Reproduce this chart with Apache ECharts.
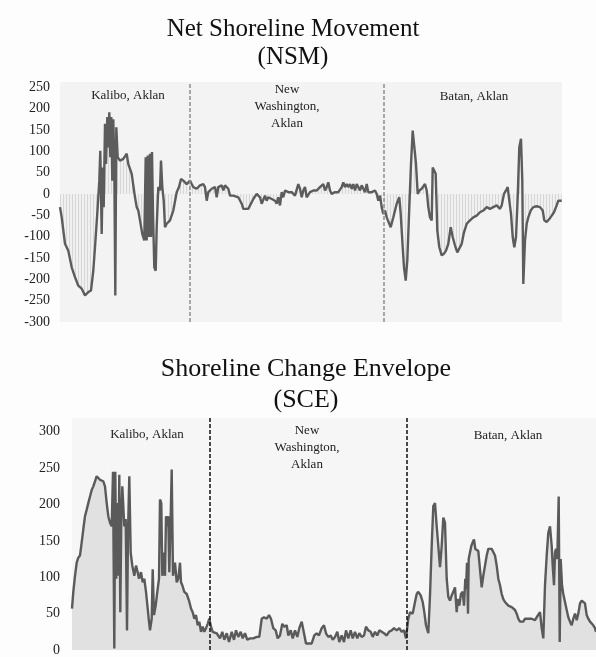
<!DOCTYPE html>
<html>
<head>
<meta charset="utf-8">
<script src="https://cdn.jsdelivr.net/npm/echarts@6/dist/echarts.min.js"></script>
<style>
  html, body { margin: 0; padding: 0; background: #fdfdfd; }
  #chart { width: 596px; height: 657px; }
</style>
</head>
<body>
<div id="chart"></div>
<script>
// transect position along the shoreline, value in metres
const nsmPoints = [
    [0,-31],[1.7,-55],[5,-117],[8.3,-133],[11.7,-172],[15,-195],[18.3,-215],[21.7,-222],[25,-238],[26.7,-234],[28.3,-230],[31,-226],[33.3,-180],[35,-125],[37.7,-31],[39.3,31],[40.3,101],[41.7,-94],[42.7,62],[43.7,-31],[45,164],[46,70],[47.3,180],[48.3,109],[49.3,191],[50.3,86],[51.3,180],[52.3,31],[53.3,175],[54.3,70],[55.3,-238],[56.3,156],[57.7,86],[60,78],[63.3,82],[65,86],[66.7,94],[68.3,70],[71.7,47],[75,-8],[76.7,-31],[78.3,-39],[80,-62],[82.3,-94],[84.3,-109],[85.7,86],[86.7,-109],[87.7,90],[88.7,-101],[90,94],[91,-101],[92,98],[93,-47],[94.3,-172],[95.7,-180],[96.7,-78],[98.3,16],[100,8],[101,78],[102.3,16],[103.7,-16],[105,-78],[106.7,-70],[110,-62],[113.3,-39],[116.7,4],[119,16],[121,35],[123.3,31],[126.7,23],[130,31],[131.7,23],
    [133.3,16],[136.7,12],[140,20],[143.3,23],[145,16],[146.7,-16],[148.3,4],[151.7,12],[155,16],[156.7,-8],[158.3,16],[161.7,20],[163.3,8],[165,20],[168.3,12],[170,-4],[173.3,-4],[178.3,-8],[181.7,-23],[183.3,-35],[188.3,-35],[190,-35],[193.3,-12],[196.7,0],[200,-8],[201.7,-23],[205,-4],[206.7,-16],[208.3,-8],[211.7,-12],[215,-16],[216.7,-23],[218.3,-8],[220,-27],[221.7,4],[223.3,-8],[225,8],[228.3,4],[231.7,4],[235,-4],[238.3,23],[240,12],[241.7,-8],[243.3,8],[245,16],[246.7,-8],[250,4],[253.3,8],[256.7,8],[260,16],[261.7,12],[263.3,23],[265,8],[266.7,16],[268.3,27],[270,8],[271.7,0],[275,4],[278.3,4],[281.7,16],[283.3,27],[285,16],[286.7,23],[288.3,16],[290,23],[291.7,12],[293.3,23],[295,8],[296.7,23],[298.3,16],[300,8],[301.7,20],[305,4],[306.7,23],[308.3,4],[311.7,4],[315,8],[316.7,0],[318.3,-16],
    [320,-4],[321.7,-31],[323.3,-47],[325,-39],[326.7,-55],[328.3,-51],[330.7,-78],[333.3,-55],[336.7,-23],[339.3,-8],[340.7,-47],[342.7,-125],[344,-172],[345.7,-203],[347.3,-156],[349.3,-31],[351,70],[352.7,148],[354.3,152],[356,70],[357.7,0],[359.3,8],[361.7,12],[363.3,16],[365,23],[366.7,8],[368.3,-31],[370,-55],[371.7,-62],[372.7,62],[374,66],[375.7,47],[377.3,-86],[379.3,-125],[381.7,-144],[384,-140],[386,-133],[388.3,-117],[390.7,-78],[392.7,-101],[395,-121],[397.3,-137],[399.3,-133],[401.7,-117],[404,-90],[406.7,-70],[410,-62],[413.3,-55],[416.7,-51],[420,-43],[423.3,-39],[426.7,-31],[430,-35],[433.3,-31],[436.7,-27],[440,-35],[441.7,-27],[444,0],[446,8],[447.7,16],[449.3,-16],[451,-47],[452.7,-101],[454.3,-125],[456,-101],[457.7,-8],[459.3,109],[461,129],[462.3,31],[463.3,-211],[465,-109],[466.7,-70],[468.3,-55],[470.7,-39],[473.3,-31],[476.7,-29],[480,-31],[482.7,-39],[484.3,-62],[486.7,-66],[489.3,-59],[491.7,-51],[494,-43],[496.7,-27],[498.3,-16],[500,-20],[501.7,-16]
];

const scePoints = [
    [0,57],[1.3,80],[3,102],[4.7,120],[6.3,127],[8,130],[9.7,148],[11.3,166],[13,184],[14.7,193],[16.3,202],[18,211],[19.7,220],[21.3,225],[23,232],[24.7,239],[26.3,241],[28,234],[29.7,236],[31.3,232],[33,225],[34.7,202],[36.3,184],[38,175],[39.7,170],[41,245],[42.3,2],[43.3,245],[44.3,98],[45.3,202],[46.3,102],[47.3,241],[48.3,52],[49.3,180],[50.3,225],[51.3,198],[52.3,170],[53.7,180],[55,27],[56,161],[57.3,239],[58.7,134],[60.3,116],[62.3,102],[64,116],[65.7,107],[67,98],[69,107],[70.7,93],[72.3,98],[74,80],[75.7,57],[77,39],[78,27],[79.7,43],[80.7,111],[82,48],[83.7,61],[85.3,80],[87,98],[88,207],[89.3,202],[90.3,102],[91.7,134],[93,102],[94,184],[95.3,170],[96.3,184],[97.3,107],[98.7,184],[99.7,248],[101,102],[103,120],[104.7,93],[106.3,98],[108,120],[109,93],[110.3,89],[112.3,80],[114.7,77],[117,68],[119,57],[120.7,52],[122.3,43],[124,48],[125.7,34],[127.3,39],[129,25],[130.7,32],[132.3,25],[134,30],[135.7,36],[137.3,43],[139,32],[140.7,25],
    [141.3,27],[144.7,23],[148,16],[150.3,25],[152.3,14],[154.7,23],[157,11],[159.7,25],[162,14],[164,27],[166.3,18],[168.7,25],[170.7,16],[173,23],[175.3,14],[178,16],[181.3,16],[184.7,18],[187.3,18],[189.7,43],[192,45],[194.7,43],[197,48],[199,43],[201.3,30],[203.7,27],[205.7,16],[208,20],[210.3,36],[212.3,32],[214.7,34],[216.3,20],[218.7,27],[220.7,16],[223,27],[225.3,18],[227.3,30],[229.7,39],[232,23],[234,9],[237,9],[239.7,9],[242.3,20],[244.7,23],[247,20],[249.7,30],[252,34],[254,23],[256.3,18],[258.7,20],[260.7,14],[263,18],[265.3,25],[267.3,11],[269.7,20],[272,11],[274,27],[276.3,16],[278.7,27],[280.7,16],[283,25],[285.3,16],[287.3,23],[289.7,18],[292,20],[294,32],[296.3,27],[298.7,25],[300.7,18],[303,25],[305.3,20],[307.3,27],[309.7,25],[312,23],[314.7,20],[317,25],[319.7,27],[322,30],[324.7,27],[327.3,30],[329.7,25],[332,27],[334,16],
    [336.3,43],[338,52],[340.7,50],[343,66],[344.7,77],[346.3,80],[348.7,75],[350.7,66],[352.3,52],[354,34],[356.3,23],[358,75],[359.7,143],[361.3,198],[363,202],[364.7,170],[366.3,143],[368,114],[369.7,143],[371.3,182],[373,175],[374.7,98],[376.3,73],[378,68],[379.7,75],[381.3,80],[383,86],[384.7,52],[385.7,70],[387.3,61],[389,77],[390.7,80],[392,61],[393.3,98],[394,84],[395,120],[396,50],[396.7,125],[398,127],[399.3,143],[400.7,148],[402,152],[403.3,139],[404.7,141],[406.3,136],[408,111],[409.7,86],[411.3,102],[413,116],[414.7,130],[416.3,139],[418,141],[419.7,139],[421.3,141],[423,130],[424.7,116],[426.3,98],[428,89],[429.7,77],[431.3,70],[433,66],[434.7,64],[436.3,61],[438,59],[439.7,59],[441.3,57],[443,55],[444.7,50],[446.3,43],[448,39],[449.7,41],[451.3,39],[453,43],[454.7,41],[456.3,43],[458,45],[459.7,43],[461.3,45],[463,41],[464.7,45],[466.3,43],[468,52],[469.7,30],[471.3,16],[473,89],[474.7,130],[476.3,161],[478,170],[479.7,143],[480.7,116],[482,89],[483,134],[484,139],[485.3,125],[486.7,211],[487.7,11],[488.7,125],[490,89],[491.3,77],[493,66],[494.7,55],[496.3,45],[498,39],[499.7,34],[501.3,43],[503,50],[504.7,41],[506.3,50],[508,64],[509.7,68],[511.3,68],[513,64],[514.7,48],[516.3,43],[518,39],[519.7,41],[521.3,34],[523,30],[524,25]
];

// boundaries between municipalities (transect positions)
const nsmDividers = [130, 324];
const sceDividers = [138, 335];
const regionNames = ["Kalibo, Aklan", "New\nWashington,\nAklan", "Batan, Aklan"];

const serif = "'Liberation Serif', 'Times New Roman', serif";

// hatched fill like the vertical drop lines of the original
const hatch = document.createElement("canvas");
hatch.width = 3;
hatch.height = 4;
const hctx = hatch.getContext("2d");
hctx.fillStyle = "#eeeeee";
hctx.fillRect(0, 0, 3, 4);
hctx.fillStyle = "#cacaca";
hctx.fillRect(0, 0, 1, 4);

function dividerLines(xs, color) {
    return {
        silent: true,
        symbol: "none",
        label: { show: false },
        lineStyle: { type: [4, 2], color: color, width: 1.5 },
        data: xs.map(x => ({ xAxis: x }))
    };
}

function regionText(x, y, text) {
    return {
        type: "text",
        x: x,
        y: y,
        style: {
            text: text,
            font: "13px " + serif,
            fill: "#222",
            align: "center",
            lineHeight: 17
        }
    };
}

// only the round ticks get a label
const tickLabel = v => (v % 50 === 0 ? String(v) : "");

var chart = echarts.init(document.getElementById("chart"));

chart.setOption({
    backgroundColor: "#fdfdfd",
    animation: false,
    title: [{
        text: "Net Shoreline Movement\n(NSM)",
        left: 288,
        top: 10,
        textAlign: "center",
        textStyle: { fontFamily: serif, fontWeight: "normal", fontSize: 25, lineHeight: 28, color: "#111" }
    }, {
        text: "Shoreline Change Envelope\n(SCE)",
        left: 301,
        top: 349,
        textAlign: "center",
        textStyle: { fontFamily: serif, fontWeight: "normal", fontSize: 26, lineHeight: 31, color: "#111" }
    }],
    grid: [{
        left: 60, width: 502, top: 82, height: 240,
        show: true, backgroundColor: "#f3f3f3", borderWidth: 0
    }, {
        left: 72, right: 0, top: 418, height: 234,
        show: true, backgroundColor: "#f6f6f6", borderWidth: 0
    }],
    xAxis: [{
        gridIndex: 0, type: "value", min: 0, max: 502, show: false
    }, {
        gridIndex: 1, type: "value", min: 0, max: 524, show: false
    }],
    yAxis: [{
        gridIndex: 0, type: "value", min: -300, max: 262, interval: 50,
        axisLine: { show: false }, axisTick: { show: false }, splitLine: { show: false },
        axisLabel: { fontFamily: serif, fontSize: 14, color: "#222", margin: 10, formatter: tickLabel }
    }, {
        gridIndex: 1, type: "value", min: 0, max: 319, interval: 50,
        axisLine: { show: false }, axisTick: { show: false }, splitLine: { show: false },
        axisLabel: { fontFamily: serif, fontSize: 14, color: "#222", margin: 12, formatter: tickLabel }
    }],
    series: [{
        type: "line",
        xAxisIndex: 0,
        yAxisIndex: 0,
        data: nsmPoints,
        showSymbol: false,
        lineStyle: { color: "#5c5c5c", width: 2.4 },
        areaStyle: { color: { image: hatch, repeat: "repeat" } },
        markLine: dividerLines(nsmDividers, "#8f8f8f")
    }, {
        type: "line",
        xAxisIndex: 1,
        yAxisIndex: 1,
        data: scePoints,
        showSymbol: false,
        lineStyle: { color: "#5a5a5a", width: 2.4 },
        areaStyle: { color: "#d9d9d9" },
        markLine: dividerLines(sceDividers, "#111")
    }],
    graphic: [
        regionText(128, 87, regionNames[0]),
        regionText(287, 81, regionNames[1]),
        regionText(474, 88, regionNames[2]),
        regionText(147, 426, regionNames[0]),
        regionText(307, 422, regionNames[1]),
        regionText(508, 427, regionNames[2])
    ]
});
</script>
</body>
</html>
